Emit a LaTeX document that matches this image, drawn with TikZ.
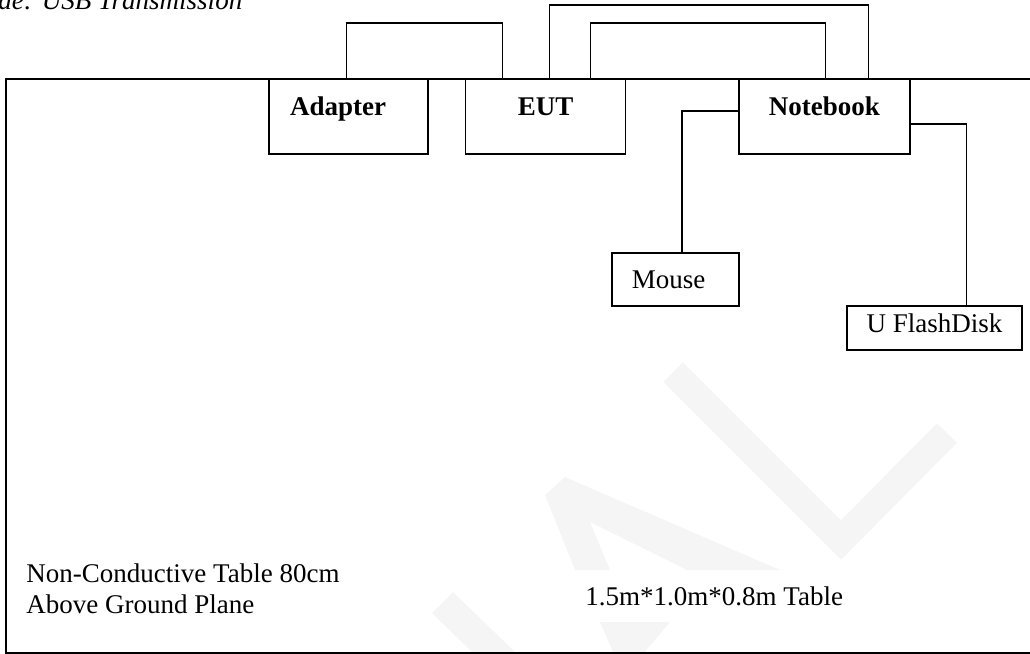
\documentclass[tikz,border=0pt]{standalone}
\usepackage{fontspec}
\setmainfont{Liberation Serif}
\usepackage{tikz}

\begin{document}
\begin{tikzpicture}[
  x=0.4444pt, y=-0.4444pt,
  font=\fontsize{12}{13.6}\selectfont,
  unit/.style={draw, line width=0.7pt, inner sep=0pt,
               text height=16.4pt, text depth=16.9pt,
               font=\fontsize{12}{13.6}\selectfont\bfseries},
  periph/.style={draw, line width=0.7pt, inner sep=0pt, text depth=7.6pt},
  padded/.style={align=left, inner xsep=#1},
  wire/.style={line width=0.7pt},
  wmark/.style={fill=black!4, draw=none},
]
\useasboundingbox (0,0) rectangle (1030,654);

% faint watermark
\draw[black!4, line width=12.4pt] (673,372) -- (841,540) -- (947,433);
\fill[wmark] (545,495) -- (565,477) -- (780,570) -- (687,570) -- (590,522)
  -- (610,570) -- (575,570) -- cycle;
\fill[wmark] (432,613) -- (453,592) -- (517,654) -- (474,654) -- cycle;
\fill[wmark] (600,622) -- (670,622) -- (643,654) -- (614,654) -- cycle;

% table
\draw[wire] (1040,79) -- (6,79) -- (6,653) -- (1040,653);

\node[font=\fontsize{12}{13.6}\selectfont\itshape, anchor=base west, inner sep=0pt]
  (title) at (-2,9.5) {de: USB Transmission};

\node[unit, padded=9.3pt, text width=51.9pt] (adapter) at (348.4,116.5) {Adapter};
\node[unit, minimum width=71.1pt]  (eut)      at (545.7,116.5) {EUT};
\node[unit, minimum width=76.0pt]  (notebook) at (824.5,116.5) {Notebook};
\node[periph, text height=16pt, padded=9pt, text width=38.6pt]
  (mouse) at (675.4,279.5) {Mouse};
\node[periph, text height=12pt, minimum width=77.9pt]
  (flash) at (934.4,328) {U FlashDisk};

\draw[wire] ([shift={(-2,0)}]adapter.north) -- ++(0,-55) -| ([shift={(-43,0)}]eut.north);
\draw[wire] ([shift={(4,0)}]eut.north) -- ++(0,-73) -| ([shift={(44,0)}]notebook.north);
\draw[wire] ([shift={(45,0)}]eut.north) -- ++(0,-55) -| ([shift={(1,0)}]notebook.north);
\draw[wire] ([shift={(0,-5.5)}]notebook.west) -| ([shift={(6.6,0)}]mouse.north);
\draw[wire] ([shift={(0,7.5)}]notebook.east) -| ([shift={(32.3,0)}]flash.north);

\node[anchor=base west, align=left, inner sep=0pt] (note) at (26,613.3)
  {Non-Conductive Table 80cm\\Above Ground Plane};
\node[anchor=base west, inner sep=0pt] (size) at (585,605) {1.5m*1.0m*0.8m Table};
\end{tikzpicture}
\end{document}
